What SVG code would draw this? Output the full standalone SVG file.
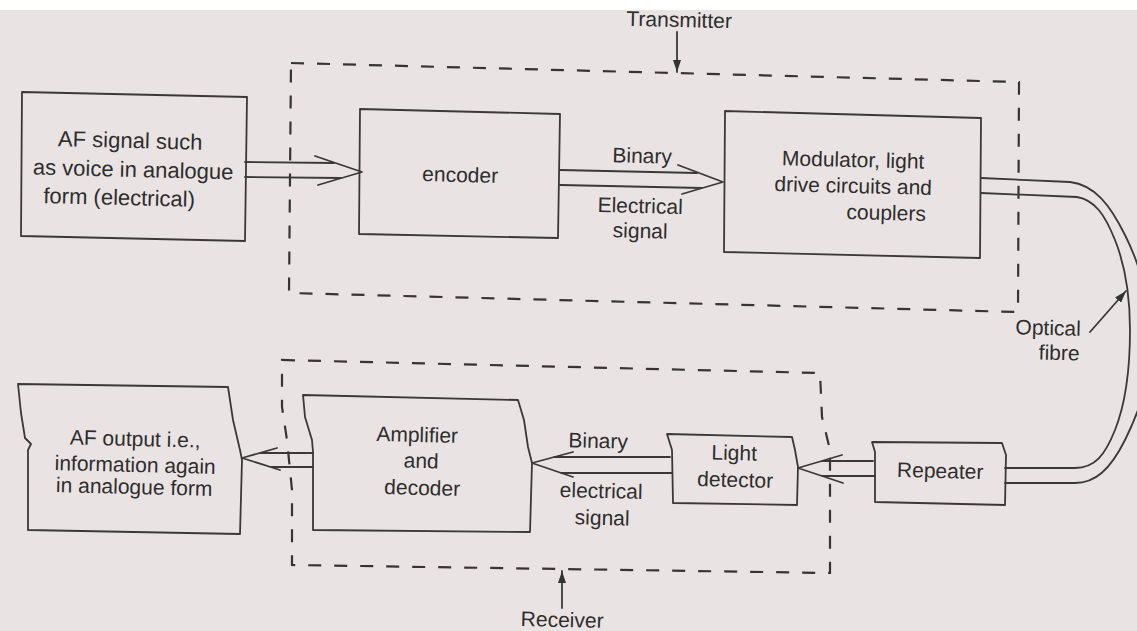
<svg xmlns="http://www.w3.org/2000/svg" width="1137" height="631" viewBox="0 0 1137 631">
<defs>
<marker id="ah" viewBox="0 0 12 8" refX="12" refY="4" markerWidth="12" markerHeight="8" markerUnits="userSpaceOnUse" orient="auto">
<path d="M0,0 L12,4 L0,8 Z" fill="#333"/>
</marker>
<style>
.box{fill:none;stroke:#3a3838;stroke-width:1.8;stroke-linejoin:round}
.dash{fill:none;stroke:#363434;stroke-width:2.2;stroke-dasharray:13 13}
.ln{fill:none;stroke:#3a3838;stroke-width:1.8;stroke-linecap:round;stroke-linejoin:round}
.t{font-family:"Liberation Sans",Arial,sans-serif;font-size:21px;fill:#2f2d2d;text-anchor:middle}
.t22{font-size:22px}
</style>
</defs>
<rect x="0" y="0" width="1137" height="631" fill="#e9e4e3"/>
<rect x="0" y="0" width="1137" height="10" fill="#ffffff"/>

<g id="transmitter-frame">
<path class="dash" d="M291,63 L1019,82 L1018,312 L289,293 Z"/>
<text class="t" x="679" y="27" transform="rotate(1.4 679 27)">Transmitter</text>
</g>
<g id="receiver-frame">
<path class="dash" d="M282,360 L820,373 L822,417 L830,450 L830,573 L292,565 L292,490 L287,440 L282,407 Z"/>
<text class="t" x="562" y="627" transform="rotate(1.4 562 627)">Receiver</text>
</g>

<g id="af-input">
<path class="box" d="M22,92 L247,97 L245,241 L21,236 Z"/>
<text class="t t22" x="130" y="148" transform="rotate(1.4 130 148)">AF signal such</text>
<text class="t t22" x="133" y="177" transform="rotate(1.4 133 177)">as voice in analogue</text>
<text class="t t22" x="119" y="205" transform="rotate(1.4 119 205)">form (electrical)</text>
</g>
<g id="encoder">
<path class="box" d="M360,109 L560,114 L558,238 L359,234 Z"/>
<text class="t" x="460" y="182" transform="rotate(1.4 460 182)">encoder</text>
</g>
<g id="modulator">
<path class="box" d="M725,111 L981,118 L980,258 L724,252 Z"/>
<text class="t" x="853" y="167" transform="rotate(1.4 853 167)">Modulator, light</text>
<text class="t" x="853" y="193" transform="rotate(1.4 853 193)">drive circuits and</text>
<text class="t" x="886" y="220" transform="rotate(1.4 886 220)">couplers</text>
</g>
<g id="repeater">
<path class="box" d="M872,442 L1002,443 L1006,455 L1005,505 L875,502 L875,452 Z"/>
<text class="t" x="940" y="478" transform="rotate(1.4 940 478)">Repeater</text>
</g>
<g id="light-detector">
<path class="box" d="M667,434 L792,437 L795,450 L798,467 L797,505 L673,503 L672,450 Z"/>
<text class="t" x="734" y="460" transform="rotate(1.4 734 460)">Light</text>
<text class="t" x="735" y="487" transform="rotate(1.4 735 487)">detector</text>
</g>
<g id="amplifier-decoder">
<path class="box" d="M303,395 L518,400 L524,420 L528,447 L532,463 L530,532 L313,530 L313,452 L312,440 L305,417 Z"/>
<text class="t" x="417" y="442" transform="rotate(1.4 417 442)">Amplifier</text>
<text class="t" x="421" y="468" transform="rotate(1.4 421 468)">and</text>
<text class="t" x="422" y="495" transform="rotate(1.4 422 495)">decoder</text>
</g>
<g id="af-output">
<path class="box" d="M18,384 L228,387 L233,420 L240,450 L242,460 L240,534 L28,530 L28,450 L31,444 L25,438 L21,413 Z"/>
<text class="t" x="135" y="446" transform="rotate(1.4 135 446)">AF output i.e.,</text>
<text class="t" x="135" y="472" transform="rotate(1.4 135 472)">information again</text>
<text class="t" x="134" y="494" transform="rotate(1.4 134 494)">in analogue form</text>
</g>

<g id="connectors">
<!-- AF input to encoder -->
<path class="ln" d="M245,162 L334,163 M245,177 L341,178 M315,156 L362,172 L318,185"/>
<!-- encoder to modulator -->
<path class="ln" d="M560,170 L697,173 M560,185 L702,188 M678,165 L723,182 L682,194"/>
<text class="t" x="642" y="163" transform="rotate(1.4 642 163)">Binary</text>
<text class="t" x="640" y="213" transform="rotate(1.4 640 213)">Electrical</text>
<text class="t" x="640" y="238" transform="rotate(1.4 640 238)">signal</text>
<!-- optical fibre -->
<path class="ln" d="M981,178 L1070,182 C1095,185 1110,205 1125,235 C1140,265 1150,300 1150,340 C1150,380 1140,410 1125,440 C1110,470 1095,483 1075,483 L1005,483"/>
<path class="ln" d="M981,193 L1077,197 C1095,200 1105,215 1115,240 C1125,265 1130,295 1130,330 C1130,370 1125,405 1115,430 C1105,455 1095,468 1075,468 L1005,468"/>
<line class="ln" x1="1090" y1="332" x2="1126" y2="291" marker-end="url(#ah)"/>
<text class="t" x="1048" y="335" transform="rotate(1.4 1048 335)">Optical</text>
<text class="t" x="1059" y="360" transform="rotate(1.4 1059 360)">fibre</text>
<!-- repeater to light detector -->
<path class="ln" d="M873,461 L822,461 M875,476 L822,476 M842,455 L798,468 L843,483"/>
<!-- light detector to amplifier -->
<path class="ln" d="M670,457 L554,457 M672,473 L561,473 M573,452 L532,463 L573,477"/>
<text class="t" x="598" y="448" transform="rotate(1.4 598 448)">Binary</text>
<text class="t" x="601" y="498" transform="rotate(1.4 601 498)">electrical</text>
<text class="t" x="602" y="525" transform="rotate(1.4 602 525)">signal</text>
<!-- amplifier to AF output -->
<path class="ln" d="M313,453 L260,453 M313,467 L271,467 M277,448 L242,458 L280,470"/>
<!-- frame labels pointers -->
<line class="ln" x1="677" y1="32" x2="677" y2="72" marker-end="url(#ah)"/>
<line class="ln" x1="562" y1="608" x2="562" y2="571" marker-end="url(#ah)"/>
</g>
</svg>
